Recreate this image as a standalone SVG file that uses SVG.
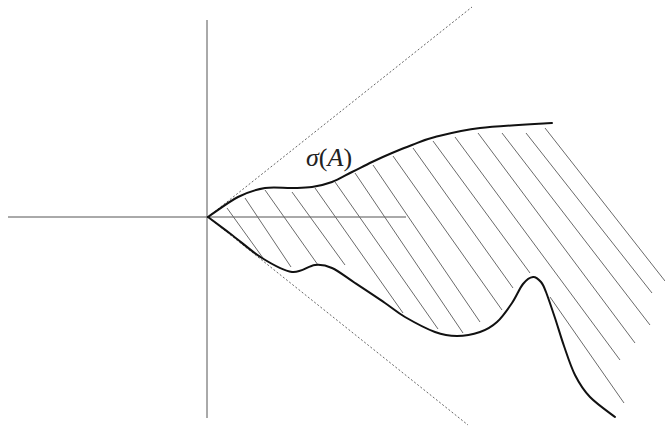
<svg xmlns="http://www.w3.org/2000/svg" width="665" height="426" viewBox="0 0 665 426">
<style>
.axis{stroke:#555;stroke-width:1;fill:none}
.dash{stroke:#666;stroke-width:1;stroke-dasharray:2 2;fill:none}
.curve{stroke:#111;stroke-width:2;fill:none;stroke-linecap:round}
.hatch{stroke:#6a6a6a;stroke-width:1;fill:none}
.lbl{font-family:"Liberation Serif",serif;font-size:26px;fill:#222}
</style>
<rect width="665" height="426" fill="#fff"/>
<g id="axes">
<line class="axis" x1="207" y1="20" x2="207" y2="418"/>
<line class="axis" x1="8" y1="217" x2="406" y2="217"/>
</g>
<g id="cone">
<line class="dash" x1="208" y1="217" x2="472" y2="7"/>
<line class="dash" x1="208" y1="217" x2="468" y2="425"/>
</g>
<g id="hatching">
<line class="hatch" x1="227" y1="208" x2="263" y2="258"/>
<line class="hatch" x1="245" y1="198" x2="291" y2="267"/>
<line class="hatch" x1="265" y1="190" x2="318" y2="265"/>
<line class="hatch" x1="292" y1="192" x2="345" y2="265"/>
<line class="hatch" x1="315" y1="188" x2="403" y2="313"/>
<line class="hatch" x1="335" y1="182" x2="438" y2="329"/>
<line class="hatch" x1="355" y1="173" x2="463" y2="333"/>
<line class="hatch" x1="373" y1="165" x2="480" y2="322"/>
<line class="hatch" x1="393" y1="156" x2="502" y2="310"/>
<line class="hatch" x1="413" y1="148" x2="513" y2="288"/>
<line class="hatch" x1="433" y1="141" x2="530" y2="273"/>
<line class="hatch" x1="455" y1="137" x2="620" y2="360"/>
<line class="hatch" x1="478" y1="133" x2="635" y2="343"/>
<line class="hatch" x1="502" y1="133" x2="650" y2="325"/>
<line class="hatch" x1="526" y1="133" x2="652" y2="293"/>
<line class="hatch" x1="545" y1="128" x2="665" y2="281"/>
<line class="hatch" x1="550" y1="297" x2="624" y2="403"/>
</g>
<g id="upper-boundary">
<path class="curve" d="M208,217 C213,213.7 228.5,201.8 238,197 C247.5,192.2 256,189.5 265,188 C274,186.5 284.2,188.2 292,188 C299.8,187.8 305.3,188 312,187 C318.7,186 325.3,184.5 332,182 C338.7,179.5 345.3,175.3 352,172 C358.7,168.7 365.3,165.2 372,162 C378.7,158.8 385.3,155.8 392,153 C398.7,150.2 404.8,147.7 412,145 C419.2,142.3 423.7,139.8 435,137 C446.3,134.2 460.5,130.3 480,128 C499.5,125.7 540,123.8 552,123"/>
</g>
<g id="lower-boundary">
<path class="curve" d="M208,217 C212,220 223,228.2 232,235 C241,241.8 252,251.8 262,258 C272,264.2 283.2,270.8 292,272 C300.8,273.2 308.3,265.7 315,265 C321.7,264.3 325.3,265 332,268 C338.7,271 346.2,277.2 355,283 C363.8,288.8 376.7,297.3 385,303 C393.3,308.7 396.7,312.2 405,317 C413.3,321.8 426.3,328.8 435,332 C443.7,335.2 449.5,336 457,336 C464.5,336 473.3,334.3 480,332 C486.7,329.7 491.7,326.8 497,322 C502.3,317.2 507.7,309.3 512,303 C516.3,296.7 519.5,288.3 523,284 C526.5,279.7 530,277.3 533,277 C536,276.7 538.8,279.5 541,282 C543.2,284.5 543.7,286 546,292 C548.3,298 552,309 555,318 C558,327 560.7,336.5 564,346 C567.3,355.5 570.7,366.5 575,375 C579.3,383.5 583.3,390 590,397 C596.7,404 610.8,413.7 615,417"/>
</g>
<g id="label">
<text class="lbl" x="306" y="166"><tspan font-style="italic">σ</tspan>(<tspan font-style="italic">A</tspan>)</text>
</g>
</svg>
